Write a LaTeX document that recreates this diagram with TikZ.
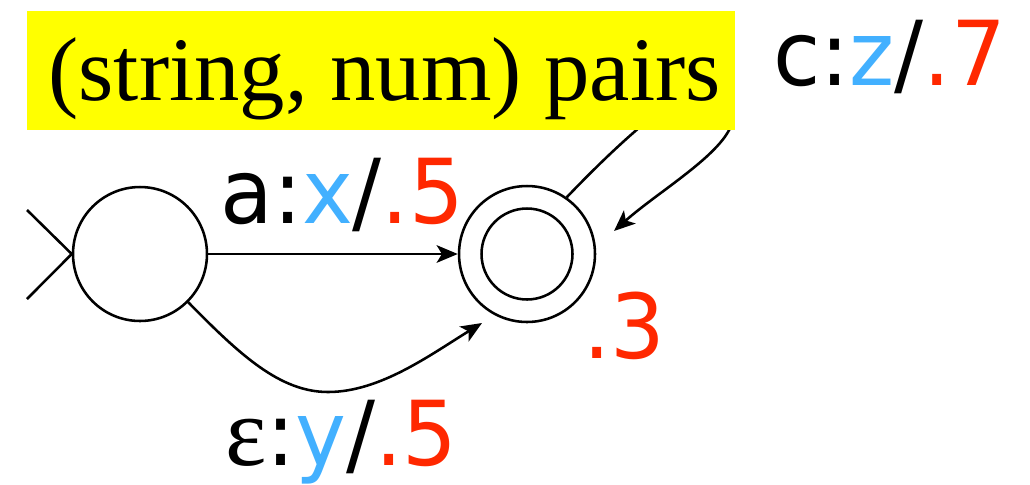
\documentclass[tikz,border=0pt]{standalone}
\usepackage{fontspec}
\setmainfont{Liberation Serif}
\newfontfamily\lab[FakeStretch=0.96]{DejaVu Sans}
\usetikzlibrary{arrows.meta}
\definecolor{lblue}{RGB}{66,176,255}
\definecolor{lred}{RGB}{255,40,0}
\definecolor{hiyel}{RGB}{255,255,0}
\tikzset{
  state/.style={circle, draw, line width=1.45pt, inner sep=0pt},
  edge/.style={line width=1.45pt, -{Stealth[length=12pt, width=10pt, inset=3pt]}},
  lbl/.style={inner sep=0pt, anchor=base west, font=\lab\fontsize{51}{55}\selectfont},
}
\begin{document}
\begin{tikzpicture}[x=0.02cm, y=-0.02cm]
\useasboundingbox (0,0) rectangle (1030,484);
% states
\node[state, minimum size=2.68cm] (q0) at (140,254) {};
\node[state, minimum size=2.72cm] (q1) at (527,254) {};
\node[state, minimum size=1.82cm] (q1in) at (q1) {};
% start marker
\coordinate (s1) at (27,210);
\coordinate (s2) at (27,299);
\draw[line width=1.45pt] (s1) -- (q0.west) -- (s2);
% a transition
\draw[edge] (q0.east) -- (q1.west);
% epsilon transition
\coordinate (e2) at (482,323);
\draw[edge] (q0.-45) .. controls (240,355) and (280,392) .. (328,392)
   .. controls (380,392) and (430,355) .. (e2);
% self loop (behind the box)
\coordinate (e3) at (614,231);
\draw[edge] (q1.55) .. controls (655,105) and (739,40) .. (733,118)
   .. controls (730,150) and (660,190) .. (e3);
% yellow box
\node[fill=hiyel, inner sep=0pt, minimum width=14.16cm, minimum height=2.38cm] (box) at (381,70.5) {};
\node[inner sep=0pt, anchor=base west, font=\fontsize{51.6}{56}\selectfont] (boxtext) at (48,100) {(string, num) pairs};
% labels
\node[lbl] (la) at (220,223) {a:\textcolor{lblue}{x}/\textcolor{lred}{.5}};
\node[lbl] (le) at (225,465) {{\rmfamily\fontsize{56}{60}\selectfont ε}:\textcolor{lblue}{y}/\textcolor{lred}{.5}};
\node[lbl] (lc) at (773,85) {c:\textcolor{lblue}{z}/\textcolor{lred}{.7}};
\node[lbl] (lf) at (583,358) {\textcolor{lred}{.3}};
\end{tikzpicture}
\end{document}
